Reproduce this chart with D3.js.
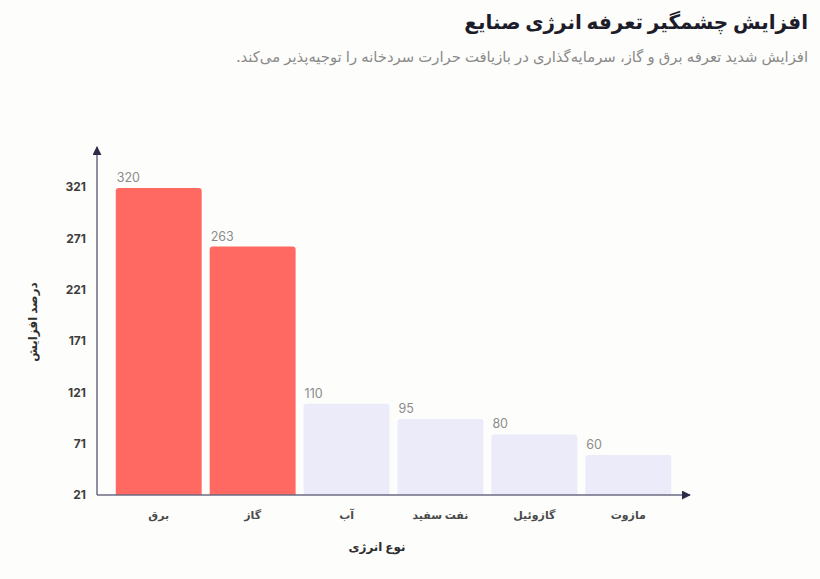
<!DOCTYPE html>
<html lang="fa">
<head>
<meta charset="utf-8">
<script src="https://cdn.jsdelivr.net/npm/d3@7"></script>
<style>
  html, body { margin: 0; padding: 0; background: #fdfdfb; }
  svg { display: block; font-family: Inter, "DejaVu Sans", sans-serif; }
</style>
</head>
<body>
<div id="chart"></div>
<script>
var categories = ["برق", "گاز", "آب", "نفت سفید", "گازوئیل", "مازوت"];
var values = [320, 263, 110, 95, 80, 60];
var highlighted = ["برق", "گاز"];
var yTicks = [21, 71, 121, 171, 221, 271, 321];

var title = "افزایش چشمگیر تعرفه انرژی صنایع";
var subtitle = "افزایش شدید تعرفه برق و گاز، سرمایه‌گذاری در بازیافت حرارت سردخانه را توجیه‌پذیر می‌کند.";
var xTitle = "نوع انرژی";
var yTitle = "درصد افزایش";

var width = 820;
var height = 579;
var plotLeft = 97, plotRight = 690, plotTop = 147, plotBottom = 495;

var data = categories.map(function(c, i) { return { name: c, value: values[i] }; });

var svg = d3.select("#chart")
    .append("svg")
    .attr("width", width)
    .attr("height", height);

// titles (rtl: "start" is the right edge)
svg.append("text")
    .attr("x", 808)
    .attr("y", 29)
    .attr("text-anchor", "start")
    .attr("direction", "rtl")
    .attr("font-size", 20)
    .attr("font-weight", "bold")
    .attr("fill", "#1c1c2b")
    .text(title);

svg.append("text")
    .attr("x", 808)
    .attr("y", 62)
    .attr("text-anchor", "start")
    .attr("direction", "rtl")
    .attr("font-size", 14.8)
    .attr("fill", "#8a8a8a")
    .text(subtitle);

var x = d3.scaleBand()
    .domain(categories)
    .range([plotLeft, plotRight])
    .paddingInner(0.085)
    .paddingOuter(0.2);

// 21 sits on the x axis, 321 at y = 187
var y = d3.scaleLinear()
    .domain([21, 321])
    .range([plotBottom, 187]);

var gBars = svg.append("g");
var gAxis = svg.append("g");

gBars.selectAll("path")
    .data(data)
    .enter()
    .append("path")
    .attr("d", function(d) {
        var x0 = x(d.name), w = x.bandwidth(), y0 = y(d.value), r = 3;
        return "M" + x0 + "," + plotBottom +
            "V" + (y0 + r) +
            "Q" + x0 + "," + y0 + " " + (x0 + r) + "," + y0 +
            "H" + (x0 + w - r) +
            "Q" + (x0 + w) + "," + y0 + " " + (x0 + w) + "," + (y0 + r) +
            "V" + plotBottom + "Z";
    })
    .attr("fill", function(d) {
        return highlighted.indexOf(d.name) >= 0 ? "#ff6961" : "#ebebfa";
    });

// value labels
gBars.selectAll("text.value")
    .data(data)
    .enter()
    .append("text")
    .attr("class", "value")
    .attr("x", function(d) { return x(d.name) + 1; })
    .attr("y", function(d) { return y(d.value) - 6; })
    .attr("font-size", 12.5)
    .attr("fill", "#8c8c8c")
    .text(function(d) { return d.value; });

// axis lines with arrows
var defs = svg.append("defs");
defs.append("marker")
    .attr("id", "arrow")
    .attr("viewBox", "0 0 10 10")
    .attr("refX", 9)
    .attr("refY", 5)
    .attr("markerWidth", 9)
    .attr("markerHeight", 9)
    .attr("markerUnits", "userSpaceOnUse")
    .attr("orient", "auto")
    .append("path")
    .attr("d", "M0,0L10,5L0,10Z")
    .attr("fill", "#2c2c4a");

gAxis.append("line")
    .attr("x1", plotLeft).attr("y1", plotBottom)
    .attr("x2", plotLeft).attr("y2", plotTop)
    .attr("stroke", "#6b6b85")
    .attr("stroke-width", 1.5)
    .attr("marker-end", "url(#arrow)");

gAxis.append("line")
    .attr("x1", plotLeft).attr("y1", plotBottom)
    .attr("x2", plotRight).attr("y2", plotBottom)
    .attr("stroke", "#6b6b85")
    .attr("stroke-width", 1.5)
    .attr("marker-end", "url(#arrow)");

// y tick labels
var yAxis = d3.axisLeft(y).tickValues(yTicks).tickSize(0).tickPadding(11);
var gy = gAxis.append("g")
    .attr("transform", "translate(" + plotLeft + ",0)")
    .call(yAxis);
gy.select(".domain").remove();
gy.selectAll("text")
    .attr("font-family", "Inter, 'DejaVu Sans', sans-serif")
    .attr("font-size", 12)
    .attr("font-weight", "bold")
    .attr("fill", "#3d3d3d");

// x tick labels
var xAxis = d3.axisBottom(x).tickSize(0).tickPadding(16);
var gx = gAxis.append("g")
    .attr("transform", "translate(0," + plotBottom + ")")
    .call(xAxis);
gx.select(".domain").remove();
gx.selectAll("text")
    .attr("font-family", "Inter, 'DejaVu Sans', sans-serif")
    .attr("font-size", 11)
    .attr("font-weight", "bold")
    .attr("direction", "rtl")
    .attr("fill", "#4a4a4a");

// axis titles
svg.append("text")
    .attr("x", 377)
    .attr("y", 551)
    .attr("text-anchor", "middle")
    .attr("direction", "rtl")
    .attr("font-size", 12)
    .attr("font-weight", "bold")
    .attr("fill", "#2e2e2e")
    .text(xTitle);

svg.append("text")
    .attr("transform", "translate(37,322) rotate(-90)")
    .attr("text-anchor", "middle")
    .attr("direction", "rtl")
    .attr("font-size", 12)
    .attr("font-weight", "bold")
    .attr("fill", "#2e2e2e")
    .text(yTitle);
</script>
</body>
</html>
